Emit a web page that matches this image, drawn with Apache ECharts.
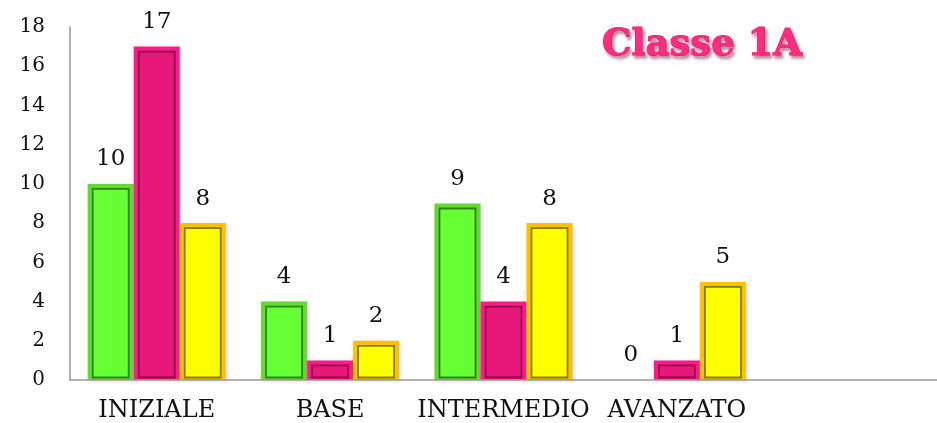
<!DOCTYPE html>
<html>
<head>
<meta charset="utf-8">
<script src="https://cdn.jsdelivr.net/npm/echarts@6/dist/echarts.min.js"></script>
<style>
html,body{margin:0;padding:0;background:#fff;}
#chart{width:937px;height:423px;}
</style>
</head>
<body>
<div id="chart"></div>
<script>
const categories = ['INIZIALE', 'BASE', 'INTERMEDIO', 'AVANZATO', ''];
const seriesGreen = [10, 4, 9, 0];
const seriesPink = [17, 1, 4, 1];
const seriesYellow = [8, 2, 8, 5];
const yTicks = [0, 2, 4, 6, 8, 10, 12, 14, 16, 18];
const titleText = 'Classe 1A';

const FONT = '"DejaVu Serif", "Liberation Serif", serif';
const BAR_W = 46;

const styles = [
  {name: 'Verde', data: seriesGreen, ring: '#62DA32', fill: '#66FF33', line: 'rgba(40,110,25,0.85)'},
  {name: 'Rosa', data: seriesPink, ring: '#FF1A8C', fill: '#E8177A', line: 'rgba(120,10,60,0.85)'},
  {name: 'Giallo', data: seriesYellow, ring: '#FFC000', fill: '#FFFF00', line: 'rgba(110,105,0,0.85)'}
];

function barSeries(s) {
  return {
    name: s.name,
    type: 'bar',
    data: s.data.map(v => v === 0 ? {value: v, itemStyle: {color: 'rgba(0,0,0,0)', shadowColor: 'rgba(0,0,0,0)'}} : v),
    barWidth: BAR_W,
    barGap: '0%',
    z: 2,
    itemStyle: {
      color: s.ring,
      borderWidth: 0,
      shadowColor: 'rgba(0,0,0,0.15)',
      shadowBlur: 4,
      shadowOffsetX: 1,
      shadowOffsetY: 1
    },
    label: {
      show: true,
      position: 'top',
      distance: 13,
      color: '#111',
      fontFamily: FONT,
      fontSize: 23
    }
  };
}

function innerSeries(s, k) {
  return {
    name: s.name + ' interno',
    type: 'custom',
    z: 3,
    silent: true,
    data: s.data.map((v, i) => [i, v]),
    renderItem: function (params, api) {
      const v = api.value(1);
      if (!v) return null;
      const top = api.coord([api.value(0), v]);
      const base = api.coord([api.value(0), 0]);
      const cx = top[0] + (k - 1) * BAR_W;
      const inset = 5;
      return {
        type: 'rect',
        shape: {
          x: cx - BAR_W / 2 + inset,
          y: top[1] + inset,
          width: BAR_W - inset * 2,
          height: Math.max(base[1] - top[1] - inset - 2.5, 1)
        },
        style: {fill: s.fill, stroke: s.line, lineWidth: 1.8}
      };
    }
  };
}

const series = [];
styles.forEach(s => series.push(barSeries(s)));
styles.forEach((s, k) => series.push(innerSeries(s, k)));

const chart = echarts.init(document.getElementById('chart'), null, {renderer: 'canvas'});
chart.setOption({
  animation: false,
  backgroundColor: '#fff',
  title: {
    text: titleText,
    left: 597,
    top: 22,
    textStyle: {
      fontFamily: FONT,
      fontWeight: 'bold',
      fontSize: 37,
      color: '#FF2C80',
      textBorderColor: '#E8136E',
      textBorderWidth: 1,
      textShadowColor: 'rgba(120,0,50,0.45)',
      textShadowBlur: 3,
      textShadowOffsetX: 2,
      textShadowOffsetY: 3
    }
  },
  grid: {left: 70, top: 27, width: 880, bottom: 43, containLabel: false},
  xAxis: {
    type: 'category',
    data: categories,
    z: 10,
    axisLine: {show: true, lineStyle: {color: '#999', width: 1.5}},
    axisTick: {show: false},
    axisLabel: {
      color: '#111',
      fontFamily: FONT,
      fontSize: 24,
      margin: 19,
      interval: 0
    }
  },
  yAxis: {
    type: 'value',
    min: yTicks[0],
    max: yTicks[yTicks.length - 1],
    interval: 2,
    axisLine: {show: true, lineStyle: {color: '#999', width: 1.5}},
    axisTick: {show: false},
    splitLine: {show: false},
    axisLabel: {
      color: '#111',
      fontFamily: FONT,
      fontSize: 20,
      margin: 25
    }
  },
  series: series
});
</script>
</body>
</html>
